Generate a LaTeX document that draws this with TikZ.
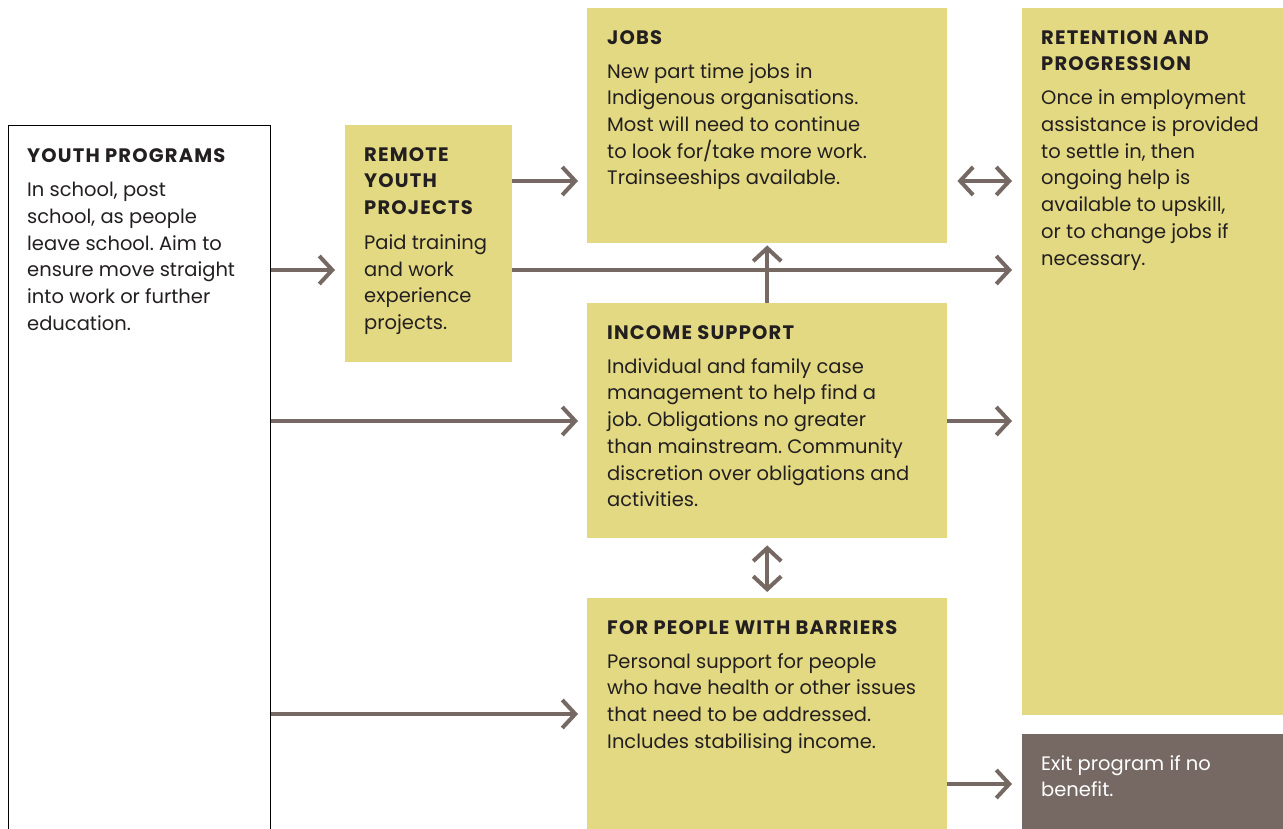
\documentclass[tikz,border=0pt]{standalone}
\usepackage{fontspec}
\setmainfont{Poppins}
\newfontfamily\ttlfont[LetterSpace=6]{Poppins}
\usetikzlibrary{arrows.meta,calc}
\frenchspacing
\definecolor{boxyellow}{HTML}{E2D982}
\definecolor{arrbrown}{HTML}{766863}
\definecolor{txtdark}{HTML}{231F20}
\tikzset{
  ybox/.style={fill=boxyellow, draw=none, anchor=north west, inner sep=0pt},
  wbox/.style={fill=white, draw=black, line width=0.9pt, anchor=north west, inner sep=0pt},
  gbox/.style={fill=arrbrown, draw=none, anchor=north west, inner sep=0pt},
  txt/.style={anchor=north west, inner sep=0pt, align=left, text=txtdark,
    font=\fontsize{19.5}{26.7}\selectfont\frenchspacing},
  arr/.style={draw=arrbrown, line width=4pt,
    -{Straight Barb[length=13pt,width=28pt,line width=4pt]}},
  darr/.style={draw=arrbrown, line width=4pt,
    {Straight Barb[length=13pt,width=28pt,line width=4pt]}-{Straight Barb[length=13pt,width=28pt,line width=4pt]}},
}
\newcommand{\ttl}[1]{{\ttlfont\bfseries #1}}
\newcommand{\fst}{\rule{0pt}{20pt}}
\begin{document}
\begin{tikzpicture}[x=1pt,y=-1pt]
\useasboundingbox (0,0) rectangle (1283,829);
\fill[white] (0,0) rectangle (1283,829);
% boxes
\node[wbox, minimum width=262pt, minimum height=720pt] (youth) at (8,125) {};
\node[ybox, minimum width=167pt, minimum height=237pt] (remote) at (345,125) {};
\node[ybox, minimum width=360pt, minimum height=235pt] (jobs) at (587,8) {};
\node[ybox, minimum width=360pt, minimum height=235pt] (income) at (587,303) {};
\node[ybox, minimum width=360pt, minimum height=240pt] (barriers) at (587,598) {};
\node[ybox, minimum width=262pt, minimum height=707pt] (retention) at (1022,8) {};
\node[gbox, minimum width=262pt, minimum height=100pt] (exit) at (1022,734) {};
% texts
\node[txt] (tyouth) at (27,142.5) {\fst\ttl{YOUTH PROGRAMS}\\[7.3pt]
In school, post\\school, as people\\leave school. Aim to\\ensure move straight\\into work or further\\education.};
\node[txt] (tremote) at (364,141) {\fst\ttl{REMOTE}\\\ttl{YOUTH}\\\ttl{PROJECTS}\\[8pt]
Paid training\\and work\\experience\\projects.};
\node[txt] (tjobs) at (607,24) {\fst\ttl{JOBS}\\[7.3pt]
New part time jobs in\\Indigenous organisations.\\Most will need to continue\\to look for/take more work.\\Trainseeships available.};
\node[txt] (tret) at (1041,24) {\fst\ttl{RETENTION AND}\\\ttl{PROGRESSION}\\[7.3pt]
Once in employment\\assistance is provided\\to settle in, then\\ongoing help is\\available to upskill,\\or to change jobs if\\necessary.};
\node[txt] (tincome) at (607,319) {\fst\ttl{INCOME SUPPORT}\\[7.3pt]
Individual and family case\\management to help find a\\job. Obligations no greater\\than mainstream. Community\\discretion over obligations and\\activities.};
\node[txt] (tbarr) at (607,614) {\fst\ttl{FOR PEOPLE WITH BARRIERS}\\[7.3pt]
Personal support for people\\who have health or other issues\\that need to be addressed.\\Includes stabilising income.};
\node[txt, text=white] (texit) at (1041,750) {\fst Exit program if no\\benefit.};
% helper coordinates for connector heights
\coordinate (h181) at (0,181);
\coordinate (h270) at (0,270);
\coordinate (h421) at (0,421);
\coordinate (h714) at (0,714);
\coordinate (h784) at (0,784);
% connectors
\draw[arr] (youth.east |- h270) -- ([xshift=-10pt]remote.west |- h270);
\draw[arr] (remote.east |- h181) -- ([xshift=-9pt]jobs.west |- h181);
\draw[arr] (remote.east |- h270) -- ([xshift=-10pt]retention.west |- h270);
\draw[arr] (youth.east |- h421) -- ([xshift=-9pt]income.west |- h421);
\draw[arr] (youth.east |- h714) -- ([xshift=-9pt]barriers.west |- h714);
\draw[arr] (income.north) -- ([yshift=-2pt]jobs.south);
\draw[darr] ([xshift=10pt]jobs.east |- h181) -- ([xshift=-10pt]retention.west |- h181);
\draw[arr] (income.east |- h421) -- ([xshift=-10pt]retention.west |- h421);
\draw[darr] ([yshift=-7pt]income.south) -- ([yshift=6pt]barriers.north);
\draw[arr] (barriers.east |- h784) -- ([xshift=-10pt]exit.west |- h784);
\end{tikzpicture}
\end{document}
